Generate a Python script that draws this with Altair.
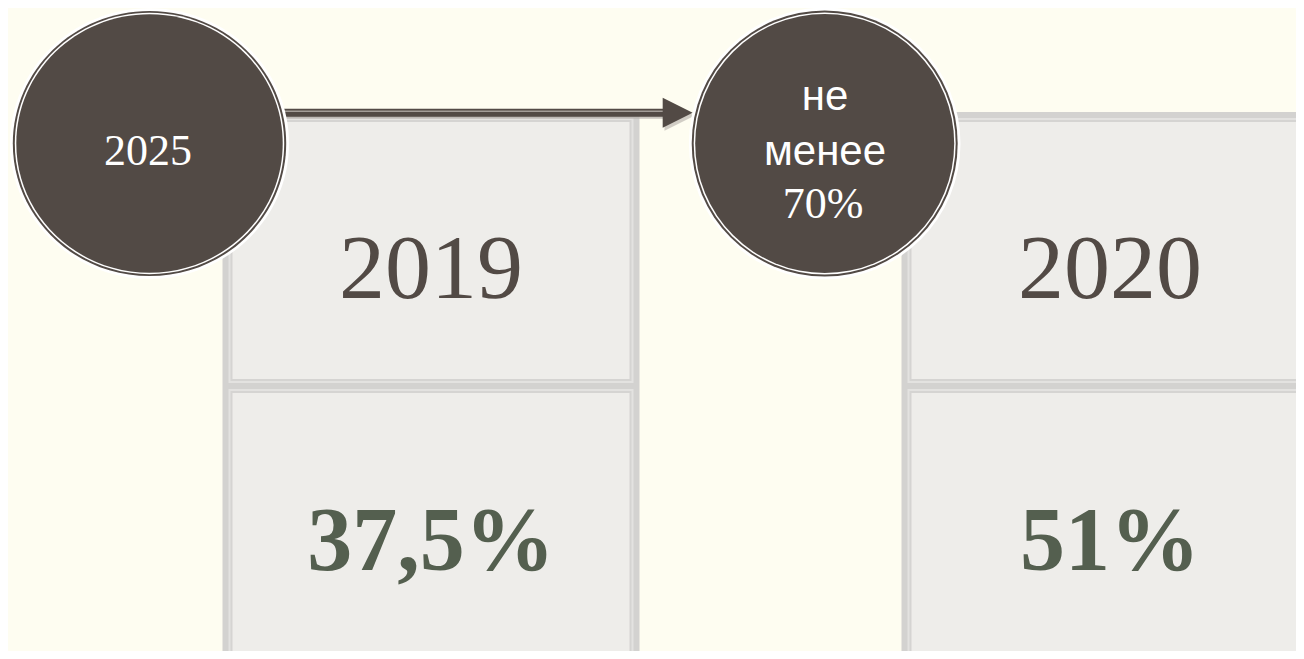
import altair as alt
import pandas as pd

# ---------------- data ----------------
years = ["2019", "2020"]
shares = ["37,5%", "51%"]
target_year = "2025"
target_lines = ["не", "менее", "70%"]

# ---------------- layout (slide pixel space) ----------------
W, H, M = 1304, 659, 8
BG = "#FEFDF1"
DARK = "#524A45"
GREEN = "#545F4F"
CELL = "#EEEDEA"
BAND = "#D3D2D0"
GAP = "#E3E2E0"
LINE = "#D5D4D2"
SHADOW = "#B3AEA9"

col_centers = [431, 1110]
col_half = 208.5
col_top, col_mid, col_bot = 112, 386, 668
band, gap_w, line_w = 6, 2, 2
year_base, share_base = 298, 570

xs = alt.Scale(domain=[M, W - M], nice=False, zero=False)
ys = alt.Scale(domain=[M, H - M], nice=False, zero=False, reverse=True)

X = lambda f="x": alt.X(f"{f}:Q", scale=xs, axis=None)
Y = lambda f="y": alt.Y(f"{f}:Q", scale=ys, axis=None)

# columns (outer grey band)
cols = pd.DataFrame({
    "x": [c - col_half for c in col_centers],
    "x2": [c + col_half for c in col_centers],
    "y": [col_top] * 2,
    "y2": [col_bot] * 2,
})
cell_rows = []
for c in col_centers:
    for (a, b) in [(col_top + band, col_mid - band / 2), (col_mid + band / 2, col_bot - band)]:
        cell_rows.append({"x": c - col_half + band, "x2": c + col_half - band, "y": a, "y2": b})
cells = pd.DataFrame(cell_rows)
ins = gap_w + line_w / 2
inner = cells.assign(x=cells.x + ins, x2=cells.x2 - ins, y=cells.y + ins, y2=cells.y2 - ins)

def rects(df, **kw):
    return alt.Chart(df).mark_rect(clip=True, **kw).encode(
        x=X(), x2=alt.X2("x2:Q"), y=Y(), y2=alt.Y2("y2:Q"))

col_layer = rects(cols, color=BAND)
gap_layer = rects(cells, color=GAP)
inner_layer = rects(inner, fill=CELL, stroke=LINE, strokeWidth=line_w)

# texts in boxes
year_df = pd.DataFrame({"x": col_centers, "y": [year_base] * 2, "t": years})
share_df = pd.DataFrame({"x": col_centers, "y": [share_base] * 2, "t": shares})
year_text = alt.Chart(year_df).mark_text(
    font="Liberation Serif", fontSize=92, color=DARK, baseline="alphabetic", align="center"
).encode(x=X(), y=Y(), text="t:N")
share_text = alt.Chart(share_df).mark_text(
    font="Liberation Serif", fontSize=90, fontWeight="bold", color=GREEN,
    baseline="alphabetic", align="center"
).encode(x=X(), y=Y(), text="t:N")

# arrow
arrow_y = 112.8
line_df = pd.DataFrame({"x": [283], "x2": [665], "y": [arrow_y]})
shadow_df = pd.DataFrame({"x": [285], "x2": [665], "y": [arrow_y + 4]})
stripe_df = pd.DataFrame({"x": [283], "x2": [663], "y": [arrow_y - 1.6]})

def hrule(df, color, width, opacity=1.0):
    return alt.Chart(df).mark_rule(color=color, strokeWidth=width, opacity=opacity).encode(
        x=X(), x2=alt.X2("x2:Q"), y=Y())

tri = "M-1,-1L1,0L-1,1Z"
head_df = pd.DataFrame({"x": [677.7], "y": [arrow_y]})
head_sh_df = pd.DataFrame({"x": [679.5], "y": [arrow_y + 3]})

def sym(df, shape, size, color, opacity=1.0):
    return alt.Chart(df).mark_point(
        shape=shape, size=size, filled=True, color=color, opacity=opacity, strokeWidth=0
    ).encode(x=X(), y=Y())

arrow = alt.layer(
    hrule(shadow_df, SHADOW, 4, 0.7),
    sym(head_sh_df, tri, 900, SHADOW, 0.6),
    hrule(line_df, DARK, 8),
    hrule(stripe_df, "#A39D98", 1.5),
    sym(head_df, tri, 900, DARK),
)

# circles
def ellipse(ratio):
    if ratio == 1:
        return "circle"
    return f"M-1,0A1,{ratio},0,1,1,1,0A1,{ratio},0,1,1,-1,0Z"

circ_specs = [((149.5, 143.5), 136.7, 0.97), ((824.7, 143.5), 133.0, 1)]
circle_layers = []
for (cx, cy), R, ratio in circ_specs:
    d = pd.DataFrame({"x": [cx], "y": [cy]})
    shp = ellipse(ratio)
    circle_layers += [
        sym(d, shp, (2 * (R + 2.8)) ** 2, "#FFFFFF"),
        sym(d, shp, (2 * R) ** 2, DARK),
        sym(d, shp, (2 * (R - 2)) ** 2, "#FFFFFF"),
        sym(d, shp, (2 * (R - 3.5)) ** 2, DARK),
    ]

c1_df = pd.DataFrame({"x": [148], "y": [165], "t": [target_year]})
c1_text = alt.Chart(c1_df).mark_text(
    font="Liberation Serif", fontSize=44, color="#FFFFFF", baseline="alphabetic", align="center"
).encode(x=X(), y=Y(), text="t:N")

c2_sans = pd.DataFrame({"x": [825, 825], "y": [110, 165], "t": target_lines[:2]})
c2_serif = pd.DataFrame({"x": [823], "y": [218], "t": target_lines[2:]})
c2_t1 = alt.Chart(c2_sans).mark_text(
    font="Liberation Sans", fontSize=42, color="#FFFFFF", baseline="alphabetic", align="center"
).encode(x=X(), y=Y(), text="t:N")
c2_t2 = alt.Chart(c2_serif).mark_text(
    font="Liberation Serif", fontSize=44, color="#FFFFFF", baseline="alphabetic", align="center"
).encode(x=X(), y=Y(), text="t:N")

chart = alt.layer(
    col_layer, gap_layer, inner_layer, year_text, share_text,
    arrow, *circle_layers, c1_text, c2_t1, c2_t2,
).properties(
    width=W - 2 * M, height=H - 2 * M, padding=0,
    autosize=alt.AutoSizeParams(type="none"), background=BG,
).configure_view(stroke=None)

chart.save("out.html", embed_options={"renderer": "svg", "actions": False})
